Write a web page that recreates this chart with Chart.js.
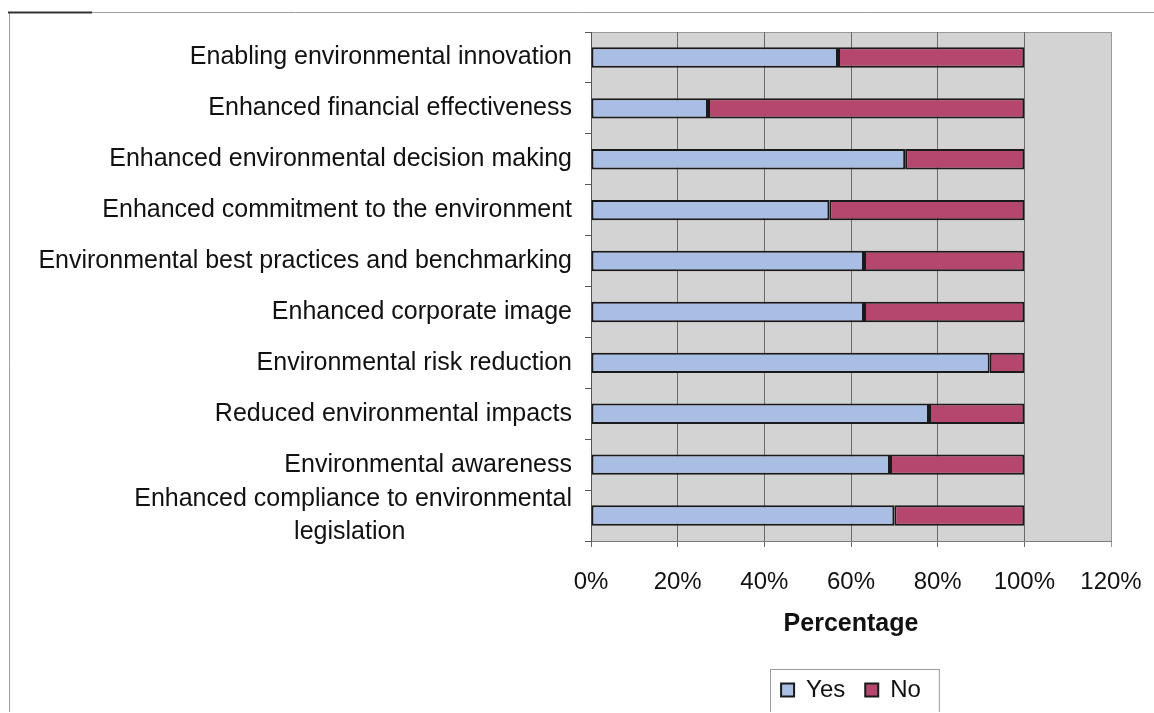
<!DOCTYPE html>
<html>
<head>
<meta charset="utf-8">
<script src="https://cdn.jsdelivr.net/npm/chart.js@4/dist/chart.umd.min.js"></script>
<style>
  html, body { margin: 0; padding: 0; background: #fff; overflow: hidden; }
  #wrap { position: relative; width: 1154px; height: 712px; }
</style>
</head>
<body>
<div id="wrap"><canvas id="benefitsChart"></canvas></div>
<script>
// Benefits of environmental management (share of respondents)
const categories = [
    'Enabling environmental innovation',
    'Enhanced financial effectiveness',
    'Enhanced environmental decision making',
    'Enhanced commitment to the environment',
    'Environmental best practices and benchmarking',
    'Enhanced corporate image',
    'Environmental risk reduction',
    'Reduced environmental impacts',
    'Environmental awareness',
    ['Enhanced compliance to environmental', 'legislation']
];
const yesValues = [57, 27, 72.5, 55, 63, 63, 92, 78, 69, 70];
const noValues = [43, 73, 27.5, 45, 37, 37, 8, 22, 31, 30];
const xTicks = [0, 20, 40, 60, 80, 100, 120];

const FONT = '"Liberation Sans", Arial, sans-serif';

// centre the lines of a wrapped label against each other (Excel style)
const measureCtx = document.createElement('canvas').getContext('2d');
measureCtx.font = '25px ' + FONT;
function centreLines(lines) {
    const widths = lines.map(l => measureCtx.measureText(l).width);
    const w = Math.max(...widths);
    const sp = measureCtx.measureText('\u00a0').width;
    return lines.map((l, i) => l + '\u00a0'.repeat(Math.round((w - widths[i]) / 2 / sp)));
}

// grey plot area + outer frame + legend box, legend centred under the plot
const chartDecor = {
    id: 'chartDecor',
    afterUpdate(chart) {
        const lg = chart.legend;
        const a = chart.chartArea;
        const tops = lg.legendHitBoxes.map(b => b.top);
        lg.left = a.left;
        lg.right = a.right;
        lg.width = a.right - a.left;
        lg.adjustHitBoxes();
        // adjustHitBoxes adds the offset again, put the tops back
        lg.legendHitBoxes.forEach((b, i) => { b.top = tops[i]; });
    },
    beforeDraw(chart) {
        const ctx = chart.ctx;
        const a = chart.chartArea;
        ctx.save();
        ctx.fillStyle = '#d3d3d3';
        ctx.fillRect(a.left, a.top, a.right - a.left, a.bottom - a.top);
        ctx.strokeStyle = '#9a9a9a';
        ctx.lineWidth = 1;
        ctx.strokeRect(a.left + 0.5, a.top + 0.5, a.right - a.left, a.bottom - a.top);
        // outer frame
        ctx.strokeStyle = '#a0a0a0';
        ctx.beginPath();
        ctx.moveTo(9.5, chart.height);
        ctx.lineTo(9.5, 12.5);
        ctx.lineTo(chart.width, 12.5);
        ctx.stroke();
        ctx.strokeStyle = '#333';
        ctx.lineWidth = 2;
        ctx.beginPath();
        ctx.moveTo(8, 12.5);
        ctx.lineTo(92, 12.5);
        ctx.stroke();
        ctx.restore();
    },
    afterDraw(chart) {
        const lg = chart.legend;
        const boxes = lg.legendHitBoxes;
        if (!boxes || !boxes.length) return;
        const ctx = chart.ctx;
        const left = Math.min(...boxes.map(b => b.left)) - 11;
        const right = Math.max(...boxes.map(b => b.left + b.width)) + 18;
        const top = lg.top + 11;
        ctx.save();
        ctx.strokeStyle = '#9a9a9a';
        ctx.lineWidth = 1;
        ctx.strokeRect(Math.round(left) + 0.5, Math.round(top) + 0.5, right - left, chart.height);
        ctx.restore();
    }
};

const ctx = document.getElementById('benefitsChart').getContext('2d');
new Chart(ctx, {
    type: 'bar',
    data: {
        labels: categories,
        datasets: [{
            label: 'Yes',
            data: yesValues,
            backgroundColor: '#aabde3',
            borderColor: '#1a1a1a',
            borderWidth: 2,
            borderSkipped: false,
            barPercentage: 1,
            categoryPercentage: 0.4
        }, {
            label: 'No',
            data: noValues,
            backgroundColor: '#b5476f',
            borderColor: '#1a1a1a',
            borderWidth: 2,
            borderSkipped: false,
            barPercentage: 1,
            categoryPercentage: 0.4
        }]
    },
    options: {
        indexAxis: 'y',
        responsive: true,
        maintainAspectRatio: false,
        animation: false,
        layout: { padding: { top: 32, right: 43, left: 0, bottom: 0 } },
        scales: {
            x: {
                stacked: true,
                min: 0,
                max: 120,
                afterBuildTicks: (scale) => { scale.ticks = xTicks.map(v => ({ value: v })); },
                afterFit: (scale) => {
                    scale.height = 117;
                    scale.paddingLeft = 0;
                    scale.paddingRight = 0;
                },
                ticks: {
                    callback: v => v + '%',
                    color: '#111',
                    padding: 21,
                    maxRotation: 0,
                    font: { family: FONT, size: 24 }
                },
                grid: {
                    color: c => c.index === xTicks.length - 1 ? '#9a9a9a' : '#6a6a6a',
                    lineWidth: 1,
                    tickLength: 6
                },
                border: { color: '#7a7a7a' },
                title: {
                    display: true,
                    text: 'Percentage',
                    color: '#111',
                    padding: { top: 4, bottom: 19 },
                    font: { family: FONT, size: 25, weight: 'bold' }
                }
            },
            y: {
                stacked: true,
                afterFit: (scale) => {
                    scale.width = 591;
                    scale.paddingTop = 0;
                    scale.paddingBottom = 0;
                },
                ticks: {
                    color: '#111',
                    padding: 13,
                    autoSkip: false,
                    callback: function (value) {
                        const l = this.getLabelForValue(value);
                        return Array.isArray(l) ? centreLines(l) : l;
                    },
                    font: { family: FONT, size: 25, lineHeight: 1.32 }
                },
                grid: {
                    drawOnChartArea: false,
                    color: '#555',
                    tickLength: 6
                },
                border: { color: '#555' }
            }
        },
        plugins: {
            legend: {
                position: 'bottom',
                labels: {
                    boxWidth: 13,
                    boxHeight: 13,
                    padding: 20,
                    color: '#111',
                    font: { family: FONT, size: 24 }
                }
            },
            tooltip: { enabled: false }
        }
    },
    plugins: [chartDecor]
});
</script>
</body>
</html>
